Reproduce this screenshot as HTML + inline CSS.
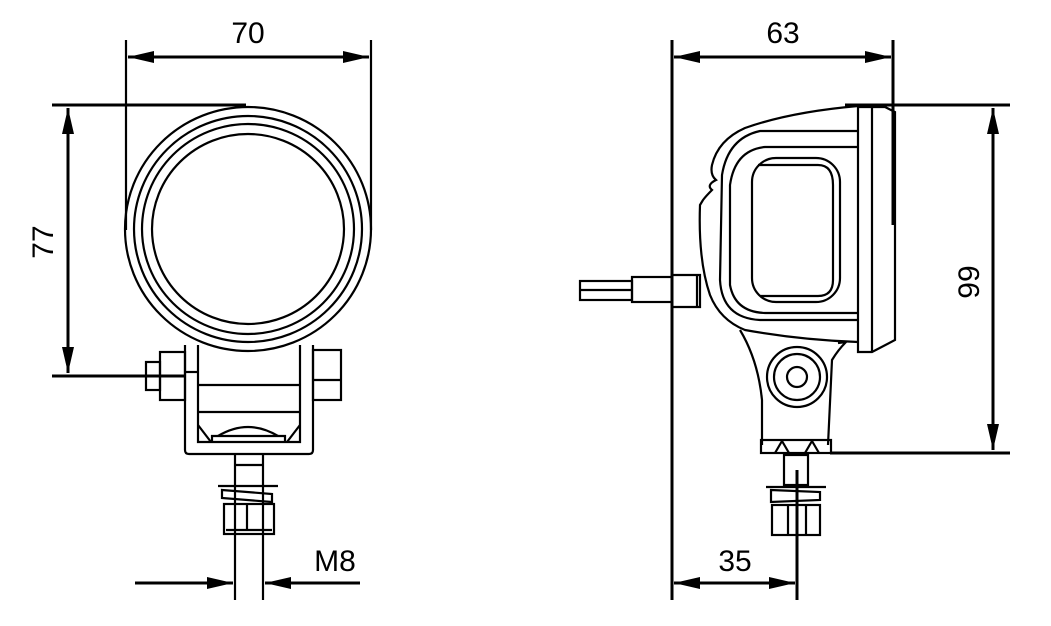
<!DOCTYPE html>
<html><head><meta charset="utf-8"><style>
html,body{margin:0;padding:0;background:#fff;}
svg{display:block;}
text{font-family:"Liberation Sans",sans-serif;font-size:30px;fill:#000;}
</style></head><body>
<svg width="1051" height="626" viewBox="0 0 1051 626" xmlns="http://www.w3.org/2000/svg">
<defs>
<marker id="a" viewBox="0 0 26 12" refX="26" refY="6" markerWidth="26" markerHeight="12" markerUnits="userSpaceOnUse" orient="auto-start-reverse"><path d="M0,0 L26,6 L0,12 z" fill="#000"/></marker>
</defs>
<g fill="none" stroke="#000" stroke-width="2.2">
<!-- LEFT VIEW -->
<line x1="126" y1="40" x2="126" y2="230"/>
<line x1="371" y1="40" x2="371" y2="230"/>
<line x1="128" y1="57" x2="369" y2="57" stroke-width="3" marker-start="url(#a)" marker-end="url(#a)"/>
<line x1="52" y1="105" x2="246" y2="105" stroke-width="3"/>
<line x1="52" y1="376" x2="185" y2="376" stroke-width="3"/>
<line x1="68" y1="108" x2="68" y2="373" stroke-width="3" marker-start="url(#a)" marker-end="url(#a)"/>
<ellipse cx="248" cy="229" rx="123" ry="122"/>
<ellipse cx="248" cy="229" rx="114" ry="113"/>
<ellipse cx="248" cy="229" rx="106" ry="105"/>
<ellipse cx="248" cy="229" rx="96" ry="95"/>
<!-- bracket -->
<path d="M185,345 V450 Q185,454 189,454 H309 Q313,454 313,450 V345"/>
<path d="M198,345 V442 H300 V345"/>
<line x1="198" y1="385" x2="300" y2="385"/>
<line x1="198" y1="412" x2="300" y2="412"/>
<path d="M198,425 L211,442 M300,425 L287,442"/>
<path d="M212,442 V436 H285 V442"/>
<path d="M218,436 Q248,418 278,436"/>
<line x1="185" y1="372" x2="198" y2="372"/>
<rect x="160" y="352" width="25" height="48"/>
<rect x="146" y="362" width="14" height="28"/>
<rect x="313" y="350" width="28" height="50"/>
<line x1="313" y1="380" x2="341" y2="380"/>
<!-- stem -->
<line x1="235" y1="454" x2="235" y2="600"/>
<line x1="263" y1="454" x2="263" y2="600"/>
<line x1="235" y1="465" x2="263" y2="465"/>
<line x1="218" y1="486" x2="278" y2="486"/>
<path d="M222,490 L272,494 V502 L222,498 z"/>
<rect x="224" y="504" width="50" height="30"/>
<line x1="247" y1="504" x2="247" y2="530"/>
<line x1="226" y1="530" x2="272" y2="530"/>
<line x1="135" y1="583" x2="233" y2="583" stroke-width="3" marker-end="url(#a)"/>
<line x1="360" y1="583" x2="265" y2="583" stroke-width="3" marker-end="url(#a)"/>
<!-- RIGHT VIEW -->
<line x1="672" y1="40" x2="672" y2="600" stroke-width="3"/>
<line x1="893" y1="40" x2="893" y2="225" stroke-width="3"/>
<line x1="674" y1="57" x2="891" y2="57" stroke-width="3" marker-start="url(#a)" marker-end="url(#a)"/>
<line x1="845" y1="105" x2="1010" y2="105" stroke-width="3"/>
<line x1="830" y1="453" x2="1010" y2="453" stroke-width="3"/>
<line x1="993" y1="108" x2="993" y2="450" stroke-width="3" marker-start="url(#a)" marker-end="url(#a)"/>
<line x1="797" y1="470" x2="797" y2="600" stroke-width="3"/>
<line x1="674" y1="583" x2="795" y2="583" stroke-width="3" marker-start="url(#a)" marker-end="url(#a)"/>
<!-- front face -->
<path d="M858,107 H885 L895,112 V340 L872,352 H858 z"/>
<line x1="872" y1="107" x2="872" y2="352"/>
<!-- body -->
<path d="M858,106 Q790,112 745,128 Q718,140 712,165 Q710,175 716,180 Q706,185 712,190 Q706,196 703,200 L700,205 Q698,260 710,295 Q720,320 745,330 Q800,340 858,342"/>
<path d="M858,131 H760 Q728,138 722,175 L720,280 Q722,318 760,320 H858"/>
<path d="M858,147 H765 Q735,150 730,185 V285 Q735,312 765,313 H858"/>
<rect x="752" y="158" width="88" height="144" rx="24"/>
<path d="M758,165 H818 Q833,165 833,185 V280 Q833,296 818,296 H760"/>
<!-- mount -->
<path d="M740,330 Q758,360 762,400 V445"/>
<path d="M838,343 L846,342 Q838,350 832,360 L828,445"/>
<circle cx="797" cy="377" r="30"/>
<circle cx="797" cy="377" r="23"/>
<circle cx="797" cy="377" r="10"/>
<rect x="761" y="440" width="70" height="13"/>
<path d="M775,453 L782,441 L789,453 M805,453 L812,441 L819,453"/>
<!-- stem right -->
<rect x="784" y="455" width="24" height="30"/>
<line x1="766" y1="487" x2="826" y2="487"/>
<path d="M771,490 L820,492 V500 L771,502 z"/>
<rect x="772" y="505" width="48" height="30"/>
<line x1="788" y1="505" x2="788" y2="535"/>
<line x1="806" y1="505" x2="806" y2="535"/>
<!-- cable -->
<rect x="580" y="281" width="52" height="19"/>
<line x1="580" y1="290" x2="632" y2="290"/>
<rect x="632" y="277" width="40" height="25"/>
<path d="M672,275 H700 V307 H672"/>
<line x1="697" y1="275" x2="697" y2="307"/>
</g>
<text x="248" y="43" text-anchor="middle">70</text>
<text x="783" y="43" text-anchor="middle">63</text>
<text x="735" y="571" text-anchor="middle">35</text>
<text x="335" y="571" text-anchor="middle">M8</text>
<text transform="translate(53,242) rotate(-90)" text-anchor="middle">77</text>
<text transform="translate(979,282) rotate(-90)" text-anchor="middle">99</text>
</svg>
</body></html>
